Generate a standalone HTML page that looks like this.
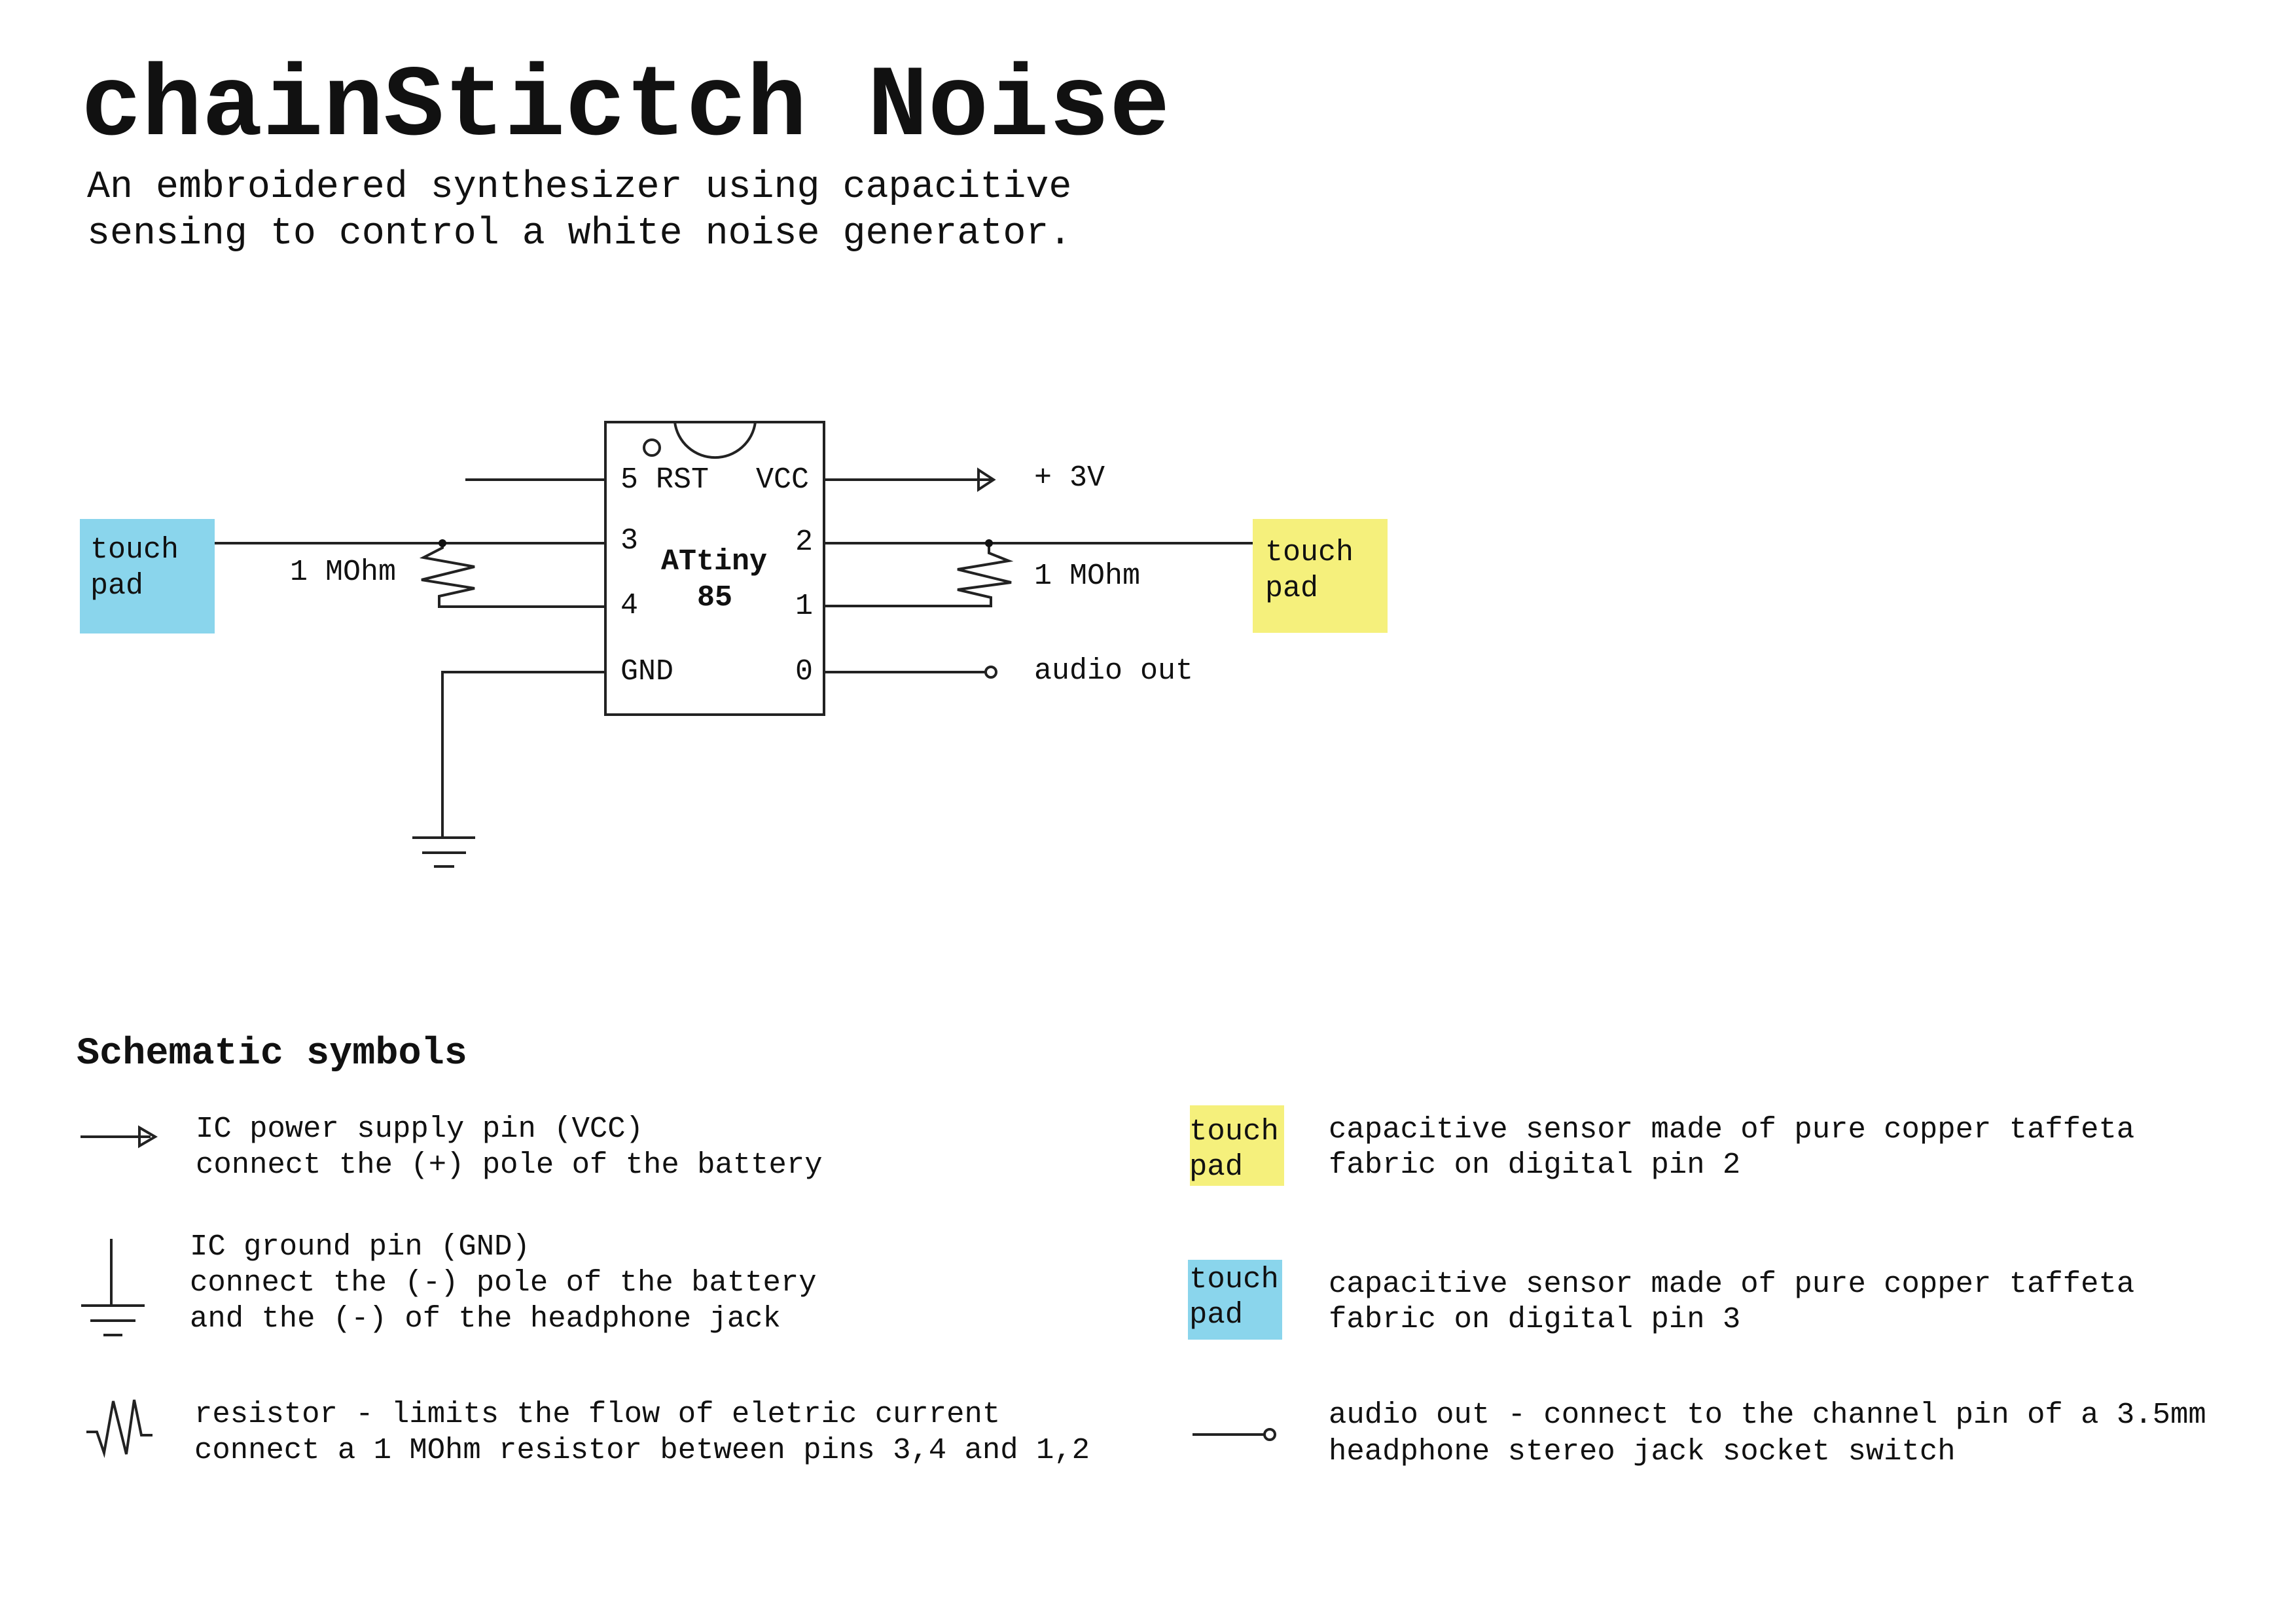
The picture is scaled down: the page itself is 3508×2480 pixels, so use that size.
<!DOCTYPE html>
<html><head><meta charset="utf-8"><style>
html,body{margin:0;padding:0;background:#fff;}
svg{display:block;}
text{font-family:"Liberation Mono","DejaVu Sans Mono",monospace;fill:#111;}
</style></head><body>
<svg width="3508" height="2480" viewBox="0 0 3508 2480" xmlns="http://www.w3.org/2000/svg">
<rect width="3508" height="2480" fill="#fff"/>
<text x="124" y="205" font-size="154" font-weight="bold">chainStictch Noise</text>
<text x="133" y="301" font-size="58.3">An embroidered synthesizer using capacitive</text>
<text x="133" y="372" font-size="58.3">sensing to control a white noise generator.</text>

<g stroke="#222" fill="none" stroke-width="4">
<rect x="925" y="645" width="334" height="447"/>
<path d="M1031 645 A62 62 0 0 0 1154 645"/>
<circle cx="996" cy="684" r="12"/>
<line x1="711" y1="733" x2="925" y2="733"/>
<line x1="1259" y1="733" x2="1515" y2="733"/>
<path d="M1495 718 L1518 733 L1495 748 Z"/>
<line x1="328" y1="830" x2="925" y2="830"/>
<polyline points="676,830 676,837 647,852 725,866 644,886 725,899 671,911 671,927 925,927"/>
<line x1="1259" y1="830" x2="1914" y2="830"/>
<polyline points="1511,830 1511,845 1541,857 1463,870 1545,890 1463,901 1514,913 1514,926 1259,926"/>
<polyline points="925,1027 676,1027 676,1280"/>
<line x1="630" y1="1280" x2="726" y2="1280"/>
<line x1="645" y1="1303" x2="712" y2="1303"/>
<line x1="663" y1="1324" x2="694" y2="1324"/>
<line x1="1259" y1="1027" x2="1506" y2="1027"/>
<circle cx="1514" cy="1027" r="8"/>
</g>
<circle cx="676" cy="830" r="6" fill="#111"/>
<circle cx="1511" cy="830" r="6" fill="#111"/>

<rect x="122" y="793" width="206" height="175" fill="#8ad5ec"/>
<rect x="1914" y="793" width="206" height="174" fill="#f5f07c"/>
<g font-size="45">
<text x="138" y="852">touch</text><text x="138" y="907">pad</text>
<text x="1933" y="856">touch</text><text x="1933" y="911">pad</text>
<text x="443" y="886">1 MOhm</text>
<text x="1580" y="892">1 MOhm</text>
<text x="948" y="745">5 RST</text>
<text x="1155" y="745">VCC</text>
<text x="948" y="838">3</text>
<text x="1215" y="840">2</text>
<text x="948" y="937">4</text>
<text x="1215" y="938">1</text>
<text x="948" y="1038">GND</text>
<text x="1215" y="1038">0</text>
<text x="1010" y="870" font-weight="bold">ATtiny</text>
<text x="1065" y="925" font-weight="bold">85</text>
<text x="1580" y="742">+ 3V</text>
<text x="1580" y="1037">audio out</text>
</g>

<text x="117" y="1625" font-size="58.5" font-weight="bold">Schematic symbols</text>
<g stroke="#222" fill="none" stroke-width="4">
<line x1="123" y1="1737" x2="230" y2="1737"/>
<path d="M213 1723 L237 1737 L213 1751 Z"/>
<line x1="170" y1="1893" x2="170" y2="1995"/>
<line x1="124" y1="1995" x2="221" y2="1995"/>
<line x1="138" y1="2018" x2="207" y2="2018"/>
<line x1="158" y1="2040" x2="187" y2="2040"/>
<polyline points="132,2188 148,2188 159,2220 173,2141 193,2222 205,2139 216,2193 233,2193"/>
<line x1="1822" y1="2192" x2="1932" y2="2192"/>
<circle cx="1940" cy="2192" r="8"/>
</g>
<rect x="1818" y="1689" width="144" height="123" fill="#f5f07c"/>
<rect x="1815" y="1925" width="144" height="122" fill="#8ad5ec"/>
<g font-size="45.6">
<text x="299" y="1737">IC power supply pin (VCC)</text>
<text x="299" y="1792">connect the (+) pole of the battery</text>
<text x="290" y="1917">IC ground pin (GND)</text>
<text x="290" y="1972">connect the (-) pole of the battery</text>
<text x="290" y="2027">and the (-) of the headphone jack</text>
<text x="297" y="2173">resistor - limits the flow of eletric current</text>
<text x="297" y="2228">connect a 1 MOhm resistor between pins 3,4 and 1,2</text>
<text x="1817" y="1741">touch</text><text x="1817" y="1795">pad</text>
<text x="2030" y="1738">capacitive sensor made of pure copper taffeta</text>
<text x="2030" y="1792">fabric on digital pin 2</text>
<text x="1817" y="1967">touch</text><text x="1817" y="2021">pad</text>
<text x="2030" y="1974">capacitive sensor made of pure copper taffeta</text>
<text x="2030" y="2028">fabric on digital pin 3</text>
<text x="2030" y="2174">audio out - connect to the channel pin of a 3.5mm</text>
<text x="2030" y="2230">headphone stereo jack socket switch</text>
</g>
</svg>
</body></html>
